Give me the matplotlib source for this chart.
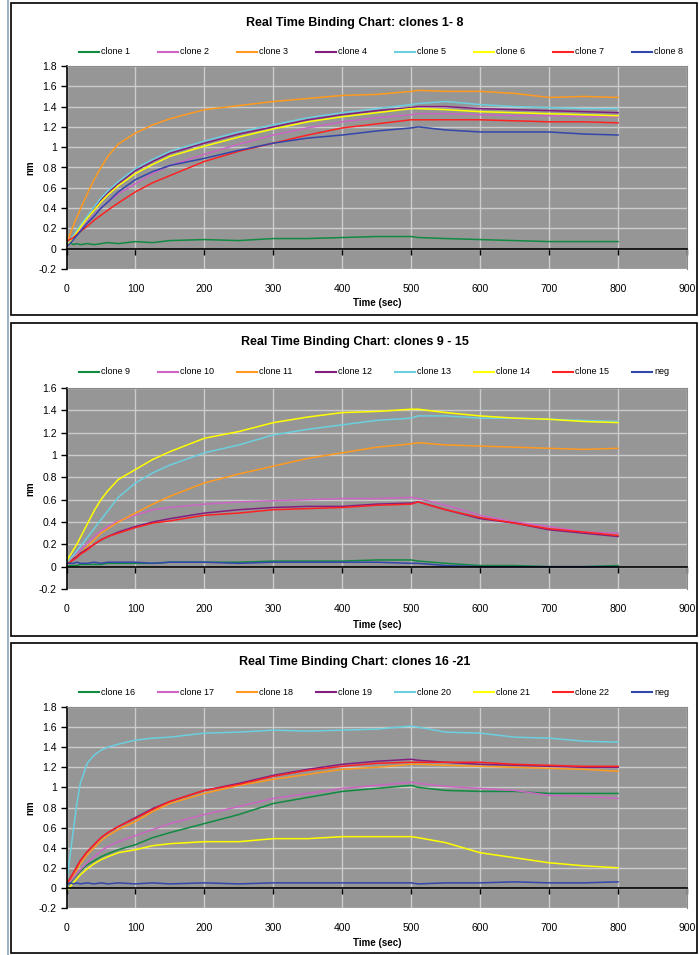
import matplotlib
matplotlib.use("Agg")
import matplotlib.pyplot as plt
from matplotlib.lines import Line2D
from matplotlib.patches import Rectangle

# figure size in pixels (dpi 100)
W, H = 699, 955

# time points (sec)
time_sec = [0, 5, 10, 15, 20, 30, 40, 50, 60, 75, 100, 125, 150, 200, 250,
            300, 350, 400, 450, 500, 510, 550, 600, 650, 700, 750, 800]

# chart 1: clones 1-8 (nm)
clone1 = [0.03, 0.06, 0.04, 0.05, 0.04, 0.05, 0.04, 0.05, 0.06, 0.05, 0.07, 0.06, 0.08, 0.09, 0.08,
          0.10, 0.10, 0.11, 0.12, 0.12, 0.11, 0.10, 0.09, 0.08, 0.07, 0.07, 0.07]
clone2 = [0.03, 0.06, 0.10, 0.14, 0.18, 0.26, 0.33, 0.40, 0.46, 0.54, 0.64, 0.74, 0.82, 0.93, 1.03,
          1.12, 1.19, 1.25, 1.29, 1.32, 1.33, 1.33, 1.32, 1.31, 1.31, 1.30, 1.30]
clone3 = [0.05, 0.14, 0.23, 0.31, 0.39, 0.54, 0.68, 0.80, 0.91, 1.03, 1.14, 1.22, 1.28, 1.37, 1.41,
          1.45, 1.48, 1.51, 1.52, 1.55, 1.56, 1.55, 1.55, 1.53, 1.49, 1.50, 1.49]
clone4 = [0.03, 0.07, 0.12, 0.17, 0.22, 0.31, 0.40, 0.48, 0.55, 0.64, 0.77, 0.86, 0.94, 1.04, 1.13,
          1.20, 1.27, 1.32, 1.36, 1.39, 1.40, 1.40, 1.38, 1.37, 1.36, 1.35, 1.34]
clone5 = [0.04, 0.08, 0.13, 0.18, 0.23, 0.32, 0.41, 0.50, 0.57, 0.66, 0.79, 0.88, 0.96, 1.06, 1.15,
          1.22, 1.29, 1.34, 1.38, 1.42, 1.43, 1.45, 1.42, 1.40, 1.39, 1.38, 1.38]
clone6 = [0.02, 0.06, 0.11, 0.16, 0.21, 0.30, 0.38, 0.46, 0.53, 0.62, 0.74, 0.83, 0.91, 1.01, 1.10,
          1.18, 1.25, 1.30, 1.34, 1.38, 1.38, 1.37, 1.35, 1.34, 1.33, 1.32, 1.31]
clone7 = [0.07, 0.09, 0.11, 0.14, 0.17, 0.22, 0.28, 0.33, 0.38, 0.45, 0.56, 0.65, 0.72, 0.86, 0.96,
          1.04, 1.12, 1.19, 1.23, 1.27, 1.27, 1.27, 1.27, 1.26, 1.25, 1.25, 1.24]
clone8 = [0.02, 0.05, 0.09, 0.13, 0.17, 0.25, 0.32, 0.40, 0.46, 0.56, 0.68, 0.76, 0.82, 0.89, 0.97,
          1.04, 1.09, 1.12, 1.16, 1.19, 1.20, 1.17, 1.15, 1.15, 1.15, 1.13, 1.12]

# chart 2: clones 9-15 + neg
clone9 = [0.00, 0.01, 0.01, 0.01, 0.02, 0.02, 0.02, 0.02, 0.03, 0.03, 0.03, 0.03, 0.04, 0.04, 0.04,
          0.05, 0.05, 0.05, 0.06, 0.06, 0.05, 0.03, 0.01, 0.01, 0.00, 0.00, 0.01]
clone10 = [0.03, 0.06, 0.09, 0.12, 0.15, 0.21, 0.27, 0.32, 0.36, 0.41, 0.46, 0.51, 0.53, 0.56, 0.58,
           0.59, 0.60, 0.61, 0.61, 0.62, 0.61, 0.55, 0.46, 0.40, 0.36, 0.31, 0.30]
clone11 = [0.03, 0.05, 0.07, 0.10, 0.12, 0.18, 0.24, 0.30, 0.34, 0.40, 0.48, 0.56, 0.63, 0.75, 0.83,
           0.90, 0.97, 1.02, 1.07, 1.10, 1.11, 1.09, 1.08, 1.07, 1.06, 1.05, 1.06]
clone12 = [0.02, 0.04, 0.07, 0.09, 0.12, 0.16, 0.20, 0.24, 0.27, 0.31, 0.36, 0.40, 0.43, 0.48, 0.51,
           0.53, 0.54, 0.54, 0.56, 0.57, 0.58, 0.51, 0.43, 0.39, 0.33, 0.30, 0.27]
clone13 = [0.03, 0.07, 0.10, 0.14, 0.18, 0.26, 0.34, 0.42, 0.50, 0.62, 0.75, 0.84, 0.91, 1.02, 1.09,
           1.18, 1.23, 1.27, 1.31, 1.33, 1.35, 1.35, 1.33, 1.33, 1.32, 1.31, 1.30]
clone14 = [0.05, 0.10, 0.15, 0.20, 0.26, 0.38, 0.50, 0.60, 0.68, 0.78, 0.87, 0.96, 1.03, 1.15, 1.21,
           1.29, 1.34, 1.38, 1.39, 1.41, 1.41, 1.38, 1.35, 1.33, 1.32, 1.30, 1.29]
clone15 = [0.02, 0.04, 0.06, 0.08, 0.11, 0.15, 0.20, 0.24, 0.27, 0.30, 0.35, 0.39, 0.41, 0.46, 0.48,
           0.51, 0.52, 0.53, 0.55, 0.56, 0.58, 0.51, 0.44, 0.39, 0.34, 0.31, 0.28]
neg_2 = [0.03, 0.03, 0.03, 0.04, 0.03, 0.03, 0.04, 0.03, 0.04, 0.04, 0.04, 0.03, 0.04, 0.04, 0.03,
         0.04, 0.04, 0.04, 0.04, 0.03, 0.03, 0.01, 0.00, 0.00, 0.00, 0.00, 0.00]

# chart 3: clones 16-22 + neg
clone16 = [0.02, 0.05, 0.09, 0.13, 0.17, 0.23, 0.27, 0.31, 0.34, 0.38, 0.43, 0.50, 0.55, 0.64, 0.73,
           0.84, 0.90, 0.96, 0.99, 1.02, 1.00, 0.97, 0.96, 0.96, 0.94, 0.94, 0.94]
clone17 = [0.03, 0.06, 0.10, 0.14, 0.18, 0.25, 0.31, 0.37, 0.41, 0.46, 0.52, 0.58, 0.64, 0.73, 0.81,
           0.89, 0.94, 0.99, 1.02, 1.05, 1.04, 1.01, 0.99, 0.97, 0.92, 0.91, 0.89]
clone18 = [0.03, 0.08, 0.13, 0.18, 0.24, 0.33, 0.40, 0.47, 0.52, 0.58, 0.66, 0.76, 0.84, 0.94, 1.02,
           1.08, 1.13, 1.18, 1.20, 1.23, 1.23, 1.22, 1.21, 1.20, 1.19, 1.18, 1.16]
clone19 = [0.04, 0.09, 0.15, 0.21, 0.27, 0.36, 0.43, 0.50, 0.55, 0.61, 0.70, 0.79, 0.86, 0.97, 1.04,
           1.12, 1.18, 1.23, 1.26, 1.28, 1.27, 1.25, 1.23, 1.22, 1.21, 1.20, 1.20]
clone20 = [0.05, 0.31, 0.58, 0.84, 1.04, 1.24, 1.32, 1.37, 1.40, 1.43, 1.47, 1.49, 1.50, 1.54, 1.55,
           1.57, 1.56, 1.57, 1.58, 1.61, 1.60, 1.55, 1.54, 1.50, 1.49, 1.46, 1.45]
clone21 = [-0.03, 0.01, 0.05, 0.09, 0.13, 0.19, 0.24, 0.28, 0.31, 0.35, 0.38, 0.42, 0.44, 0.46, 0.46,
           0.49, 0.49, 0.51, 0.51, 0.51, 0.50, 0.45, 0.35, 0.30, 0.25, 0.22, 0.20]
clone22 = [0.04, 0.09, 0.15, 0.21, 0.27, 0.36, 0.43, 0.50, 0.55, 0.61, 0.69, 0.78, 0.86, 0.97, 1.03,
           1.11, 1.17, 1.21, 1.24, 1.25, 1.25, 1.25, 1.25, 1.23, 1.22, 1.21, 1.21]
neg_3 = [0.04, 0.05, 0.04, 0.05, 0.04, 0.05, 0.04, 0.05, 0.04, 0.05, 0.04, 0.05, 0.04, 0.05, 0.04,
         0.05, 0.05, 0.05, 0.05, 0.05, 0.04, 0.05, 0.05, 0.06, 0.05, 0.05, 0.06]

titles = ["Real Time Binding Chart: clones 1- 8",
          "Real Time Binding Chart: clones 9 - 15",
          "Real Time Binding Chart: clones 16 -21"]
names_1 = ["clone 1", "clone 2", "clone 3", "clone 4", "clone 5", "clone 6", "clone 7", "clone 8"]
names_2 = ["clone 9", "clone 10", "clone 11", "clone 12", "clone 13", "clone 14", "clone 15", "neg"]
names_3 = ["clone 16", "clone 17", "clone 18", "clone 19", "clone 20", "clone 21", "clone 22", "neg"]
series_1 = [clone1, clone2, clone3, clone4, clone5, clone6, clone7, clone8]
series_2 = [clone9, clone10, clone11, clone12, clone13, clone14, clone15, neg_2]
series_3 = [clone16, clone17, clone18, clone19, clone20, clone21, clone22, neg_3]
y_max = [1.8, 1.6, 1.8]

# same colour order in every chart (Excel default series colours)
colors = ["#118a42", "#cc66c4", "#ff9a1e", "#801f80", "#6ccfe0", "#ffff00", "#ff2222", "#3346aa"]

plt.rcParams["font.family"] = ["Liberation Sans", "DejaVu Sans"]

fig = plt.figure(figsize=(W / 100, H / 100), dpi=100)
fig.patch.set_facecolor("white")


def fx(px):
    return px / W


def fy(py):
    return 1 - py / H


# layout of each chart box, in pixels
boxes = [(3, 315), (323, 636), (643, 953)]
title_y = [23, 342, 662]
legend_y = [52, 372, 692]
plot_top = [66, 388, 707]
plot_bot = [269, 589, 908]
xlabel_y = [303, 625, 943]
label_pad = [30, 32, 30]
plot_left, plot_right = 66.5, 687

# page edge on the left
fig.add_artist(Line2D([fx(7.5), fx(7.5)], [0, 1], transform=fig.transFigure,
                      color="#8ea4b8", lw=1.2))

panels = [(names_1, series_1), (names_2, series_2), (names_3, series_3)]

for i, (names, series) in enumerate(panels):
    top, bot = boxes[i]
    fig.add_artist(Rectangle((fx(10.5), fy(bot)), fx(697) - fx(10.5), fy(top) - fy(bot),
                             transform=fig.transFigure, fill=False, edgecolor="black", lw=1.2))

    fig.text(fx(355), fy(title_y[i]), titles[i], ha="center", va="center",
             fontsize=9, fontweight="bold")

    ax = fig.add_axes([fx(plot_left), fy(plot_bot[i]), fx(plot_right) - fx(plot_left),
                       fy(plot_top[i]) - fy(plot_bot[i])])
    ax.set_facecolor("#969696")

    for s, c in zip(series, colors):
        ax.plot(time_sec, s, color=c, lw=1.1)

    ax.set_xlim(0, 900)
    ax.set_ylim(-0.2, y_max[i])
    ax.set_xticks(range(0, 901, 100))
    yt = [round(-0.2 + 0.2 * k, 1) for k in range(int(round((y_max[i] + 0.2) / 0.2)) + 1)]
    ax.set_yticks(yt)
    ax.set_yticklabels([f"{v:g}" for v in yt])

    ax.grid(True, color="#cccccc", lw=1.0)
    ax.set_axisbelow(True)

    # x axis crosses at y = 0, labels stay at the bottom
    ax.spines["bottom"].set_position(("data", 0))
    ax.spines["bottom"].set_linewidth(1.2)
    ax.spines["left"].set_linewidth(1.2)
    for side in ["top", "right"]:
        ax.spines[side].set_color("#8a8a8a")
        ax.spines[side].set_linewidth(0.8)
    ax.tick_params(axis="x", direction="out", length=4, width=1.0,
                   pad=label_pad[i] * 0.72, labelsize=7.5)
    ax.tick_params(axis="y", direction="out", length=4, width=1.0, pad=3, labelsize=7.5)

    fig.text(fx(30), fy((plot_top[i] + plot_bot[i]) / 2), "nm", rotation=90,
             ha="center", va="center", fontsize=7, fontweight="bold")
    fig.text(fx(377), fy(xlabel_y[i]), "Time (sec)", ha="center", va="center",
             fontsize=7, fontweight="bold")

    # legend row drawn by hand so the entries are evenly spaced
    for k, (name, c) in enumerate(zip(names, colors)):
        x0 = 79 + 79 * k
        fig.add_artist(Line2D([fx(x0), fx(x0 + 20)], [fy(legend_y[i])] * 2,
                              transform=fig.transFigure, color=c, lw=1.5))
        fig.text(fx(x0 + 22), fy(legend_y[i]), name, ha="left", va="center", fontsize=6.5)

fig.savefig("out.png", dpi=100)
